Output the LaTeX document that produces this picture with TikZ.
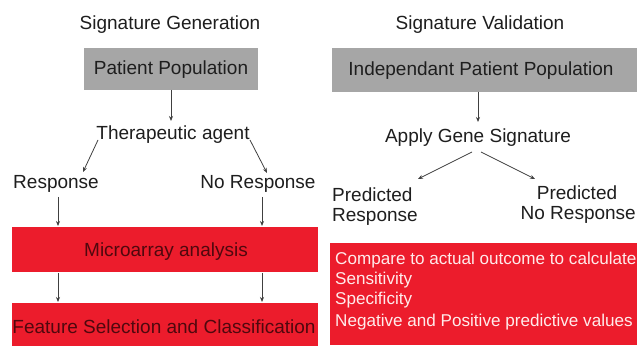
\documentclass[tikz,border=0pt]{standalone}
\usepackage{fontspec}
\setmainfont{Liberation Sans}
\usetikzlibrary{arrows.meta}
\definecolor{boxred}{RGB}{236,28,44}
\definecolor{boxgray}{RGB}{166,166,166}
\definecolor{txtdark}{RGB}{30,30,30}
\definecolor{txtred}{RGB}{80,8,14}
\tikzset{
  lbl/.style={inner sep=0pt, text=txtdark, font=\fontsize{19}{22}\selectfont, anchor=base},
  graybox/.style={fill=boxgray, draw=none},
  redbox/.style={fill=boxred, draw=none},
  arr/.style={draw=black!75, line width=0.8pt, -{Stealth[length=5pt,width=4pt]}},
}
\begin{document}
\begin{tikzpicture}[x=1pt,y=-1pt]
\useasboundingbox (0,0) rectangle (637,347);
\fill[white] (0,0) rectangle (637,347);
% titles
\node[lbl] (t1) at (170,30) {Signature Generation};
\node[lbl] (t2) at (480,30) {Signature Validation};
% left column
\fill[graybox] (84,48) rectangle (258,90);
\node[lbl] (pp) at (171,75) {Patient Population};
\coordinate (ppb) at (171,90);
\node[lbl] (ta) at (173,140) {Therapeutic agent};
\coordinate (tatop) at (171,121);
\draw[arr] (ppb) -- (tatop);
\node[lbl] (resp) at (56,189) {Response};
\node[lbl] (nresp) at (258,189) {No Response};
\coordinate (la1) at (98,140);
\coordinate (la2) at (83,172);
\coordinate (ra1) at (250,140);
\coordinate (ra2) at (267,173);
\draw[arr] (la1) -- (la2);
\draw[arr] (ra1) -- (ra2);
\fill[redbox] (12,227) rectangle (318,272);
\node[lbl, text=txtred] (micro) at (166,257) {Microarray analysis};
\coordinate (r1a) at (58,197);
\coordinate (r1b) at (58,226);
\coordinate (r2a) at (262,197);
\coordinate (r2b) at (262,226);
\draw[arr] (r1a) -- (r1b);
\draw[arr] (r2a) -- (r2b);
\fill[redbox] (12,303) rectangle (318,346);
\node[lbl, text=txtred] (feat) at (164,333) {Feature Selection and Classification};
\coordinate (r3a) at (58,273);
\coordinate (r3b) at (58,302);
\coordinate (r4a) at (262,273);
\coordinate (r4b) at (262,302);
\draw[arr] (r3a) -- (r3b);
\draw[arr] (r4a) -- (r4b);
% right column
\fill[graybox] (332,48) rectangle (637,92);
\node[lbl] (ipp) at (481,76) {Independant Patient Population};
\coordinate (ippb) at (478,92);
\coordinate (agtop) at (478,122);
\draw[arr] (ippb) -- (agtop);
\node[lbl] (ags) at (478,143) {Apply Gene Signature};
\coordinate (ag1) at (472,152);
\coordinate (ag2) at (418,179);
\coordinate (ag3) at (481,152);
\coordinate (ag4) at (535,179);
\draw[arr] (ag1) -- (ag2);
\draw[arr] (ag3) -- (ag4);
\node[lbl, anchor=base west] (pr1) at (332,202) {Predicted};
\node[lbl, anchor=base west] (pr2) at (332,222) {Response};
\node[lbl] (pn1) at (577,200) {Predicted};
\node[lbl, anchor=base east] (pn2) at (636,220) {No Response};
\fill[redbox] (330,243) rectangle (637,345);
\node[lbl, anchor=base west, text=white!92!red, font=\fontsize{17.1}{20}\selectfont] (c1) at (335,265) {Compare to actual outcome to calculate};
\node[lbl, anchor=base west, text=white!92!red, font=\fontsize{17.1}{20}\selectfont] (c2) at (335,285) {Sensitivity};
\node[lbl, anchor=base west, text=white!92!red, font=\fontsize{17.1}{20}\selectfont] (c3) at (335,305) {Specificity};
\node[lbl, anchor=base west, text=white!92!red, font=\fontsize{17.1}{20}\selectfont] (c4) at (335,326) {Negative and Positive predictive values};
\end{tikzpicture}
\end{document}
